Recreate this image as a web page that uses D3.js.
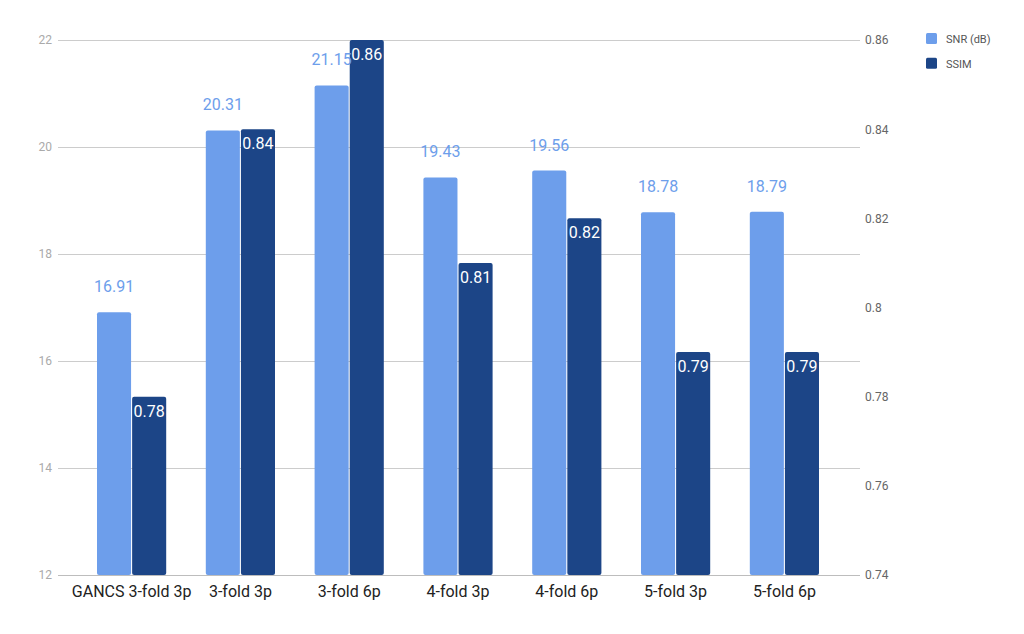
<!DOCTYPE html>
<html><head><meta charset="utf-8">
<script src="https://cdn.jsdelivr.net/npm/d3@7"></script>
<style>body{margin:0;background:#fff;}svg{display:block;font-family:Roboto,sans-serif;}</style>
</head><body>
<svg id="c" width="1024" height="634"></svg>
<script>
const categories = ["GANCS 3-fold 3p","3-fold 3p","3-fold 6p","4-fold 3p","4-fold 6p","5-fold 3p","5-fold 6p"];
const snrValues = [16.91, 20.31, 21.15, 19.43, 19.56, 18.78, 18.79];
const ssimValues = [0.78, 0.84, 0.86, 0.81, 0.82, 0.79, 0.79];
const leftTicks = [12, 14, 16, 18, 20, 22];
const rightTicks = [0.74, 0.76, 0.78, 0.8, 0.82, 0.84, 0.86];
const seriesNames = ["SNR (dB)", "SSIM"];
const colors = ["#6d9eeb", "#1c4587"];

const svg = d3.select("#c");
const plotLeft = 58, plotRight = 860, plotTop = 40, plotBottom = 575;

const x = d3.scaleBand().domain(categories).range([97, 819]).paddingInner(0.364).paddingOuter(0);
const inner = d3.scaleBand().domain([0,1]).range([0, x.bandwidth()]).paddingInner(0.03);
const yL = d3.scaleLinear().domain([12, 22]).range([plotBottom, plotTop]);
const yR = d3.scaleLinear().domain([0.74, 0.86]).range([plotBottom, plotTop]);

// gridlines
svg.append("g").selectAll("line").data(leftTicks).join("line")
  .attr("x1", plotLeft).attr("x2", plotRight)
  .attr("y1", d => yL(d)).attr("y2", d => yL(d))
  .attr("stroke", d => d === 12 ? "#bdbdbd" : "#cccccc").attr("stroke-width", 1)
  .attr("shape-rendering", "crispEdges");

// left axis
const la = d3.axisLeft(yL).tickValues(leftTicks).tickSize(0).tickPadding(0).tickFormat(d3.format("d"));
svg.append("g").attr("transform", `translate(${52},0)`).call(la)
  .call(g => g.select(".domain").remove())
  .call(g => g.selectAll("text").attr("fill", "#aaaaaa").attr("font-size", 12).attr("font-family", "Roboto"));

// right axis
const ra = d3.axisRight(yR).tickValues(rightTicks).tickSize(0).tickPadding(0).tickFormat(d => String(+d.toFixed(2)));
svg.append("g").attr("transform", `translate(${865},0)`).call(ra)
  .call(g => g.select(".domain").remove())
  .call(g => g.selectAll("text").attr("fill", "#666666").attr("font-size", 12).attr("font-family", "Roboto"));

// bars
const groups = svg.append("g").selectAll("g").data(categories).join("g")
  .attr("transform", d => `translate(${x(d)},0)`);

groups.append("rect")
  .attr("x", inner(0)).attr("width", inner.bandwidth())
  .attr("y", (d,i) => yL(snrValues[i])).attr("height", (d,i) => plotBottom - yL(snrValues[i]))
  .attr("rx", 2).attr("fill", colors[0]);
groups.append("rect")
  .attr("x", inner(1)).attr("width", inner.bandwidth())
  .attr("y", (d,i) => yR(ssimValues[i])).attr("height", (d,i) => plotBottom - yR(ssimValues[i]))
  .attr("rx", 2).attr("fill", colors[1]);

// labels
groups.append("text")
  .attr("x", inner(0) + inner.bandwidth()/2)
  .attr("y", (d,i) => yL(snrValues[i]) - 20)
  .attr("text-anchor", "middle").attr("font-size", 16).attr("fill", colors[0])
  .text((d,i) => snrValues[i].toFixed(2));
groups.append("text")
  .attr("x", inner(1) + inner.bandwidth()/2)
  .attr("y", (d,i) => yR(ssimValues[i]) + 20)
  .attr("text-anchor", "middle").attr("font-size", 16).attr("fill", "#ffffff")
  .text((d,i) => ssimValues[i].toFixed(2));

// x axis labels
const xa = d3.axisBottom(x).tickSize(0).tickPadding(0);
svg.append("g").attr("transform", `translate(0,${plotBottom + 11})`).call(xa)
  .call(g => g.select(".domain").remove())
  .call(g => g.selectAll("text").attr("fill", "#222222").attr("font-size", 16).attr("font-family", "Roboto"));

// legend
const leg = svg.append("g").selectAll("g").data(seriesNames).join("g")
  .attr("transform", (d,i) => `translate(926,${33 + i*24.7})`);
leg.append("rect").attr("width", 11).attr("height", 11).attr("rx", 1.5).attr("fill", (d,i) => colors[i]);
leg.append("text").attr("x", 20).attr("y", 10).attr("font-size", 11).attr("fill", "#555555").text(d => d);
</script>
</body></html>
